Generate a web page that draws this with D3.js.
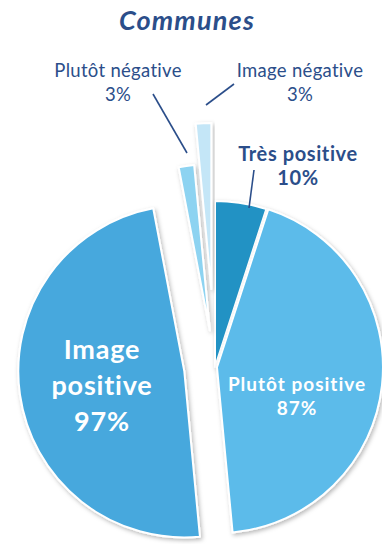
<!DOCTYPE html>
<html>
<head>
<meta charset="utf-8">
<script src="https://cdn.jsdelivr.net/npm/d3@7"></script>
<style>
  html, body { margin: 0; padding: 0; background: #ffffff; }
  svg { display: block; }
  text { font-family: Lato, "Open Sans", sans-serif; }
</style>
</head>
<body>
<svg id="chart" width="382" height="544"></svg>
<script>
// Slices in clockwise order, starting at 12 o'clock.
// Each half of the pie sums to 100, so the full circle is 200.
const categories = ["Très positive", "Plutôt positive", "Image positive", "Plutôt négative", "Image négative"];
const values     = [10, 87, 97, 3, 3];
const valueLabels = ["10%", "87%", "97%", "3%", "3%"];
const title = "Communes";

const colors = {
  "Très positive":   "#2192c4",
  "Plutôt positive": "#5bbbea",
  "Image positive":  "#47a8dd",
  "Plutôt négative": "#8dd3f1",
  "Image négative":  "#c4e6f7"
};
// how far each slice is pulled out from the centre, along its bisector
const explode = {
  "Très positive": 0,
  "Plutôt positive": 2,
  "Image positive": 31,
  "Plutôt négative": 37,
  "Image négative": 78
};

const svg = d3.select("#chart");
const cx = 215, cy = 367, r = 166;
const ink = "#2b4e8a";

// soft shadow under the slices
const defs = svg.append("defs");
const f = defs.append("filter").attr("id", "shadow")
  .attr("x", "-20%").attr("y", "-20%").attr("width", "140%").attr("height", "140%");
f.append("feDropShadow").attr("dx", 1.5).attr("dy", 2).attr("stdDeviation", 2)
  .attr("flood-color", "#000").attr("flood-opacity", 0.28);

const data = categories.map((c, i) => ({ name: c, value: values[i], label: valueLabels[i] }));

const pie = d3.pie().sort(null).value(d => d.value).startAngle(0).endAngle(2 * Math.PI);
const arcs = pie(data);
const arc = d3.arc().innerRadius(0).outerRadius(r);

function offset(a) {
  const mid = (a.startAngle + a.endAngle) / 2;
  const k = explode[a.data.name];
  return [Math.sin(mid) * k, -Math.cos(mid) * k];
}

const g = svg.append("g").attr("transform", `translate(${cx},${cy})`);

g.selectAll("path.slice")
  .data(arcs)
  .join("path")
  .attr("class", "slice")
  .attr("transform", d => { const o = offset(d); return `translate(${o[0]},${o[1]})`; })
  .attr("d", arc)
  .attr("fill", d => colors[d.data.name])
  .attr("stroke", "#ffffff")
  .attr("stroke-width", 2)
  .attr("stroke-linejoin", "round")
  .attr("filter", "url(#shadow)");

// title
svg.append("text")
  .attr("x", 187).attr("y", 30)
  .attr("text-anchor", "middle")
  .attr("font-size", 27).attr("font-weight", 700).attr("font-style", "italic")
  .attr("letter-spacing", 1.2)
  .attr("fill", ink)
  .text(title);

const byName = Object.fromEntries(arcs.map(a => [a.data.name, a]));

// labels inside the large slices
function inside(name, lines, x, y0, size, lh, ls) {
  const t = svg.append("text")
    .attr("text-anchor", "middle")
    .attr("font-size", size).attr("font-weight", 700)
    .attr("letter-spacing", ls)
    .attr("fill", "#ffffff");
  lines.forEach((s, i) => t.append("tspan").attr("x", x).attr("y", y0 + i * lh).text(s));
}
inside("Image positive", ["Image", "positive", byName["Image positive"].data.label], 102, 359, 27, 36, 0.8);
inside("Plutôt positive", ["Plutôt positive", byName["Plutôt positive"].data.label], 297, 391, 19, 24, 1.0);

// outside labels with leader lines
function outside(name, x, y0, weight, size, ls, line) {
  const t = svg.append("text")
    .attr("text-anchor", "middle")
    .attr("font-size", size).attr("font-weight", weight)
    .attr("letter-spacing", ls)
    .attr("fill", ink);
  t.append("tspan").attr("x", x).attr("y", y0).text(name);
  t.append("tspan").attr("x", x).attr("y", y0 + 24).text(byName[name].data.label);
  svg.append("line")
    .attr("x1", line[0]).attr("y1", line[1]).attr("x2", line[2]).attr("y2", line[3])
    .attr("stroke", ink).attr("stroke-width", 1.6);
}
outside("Plutôt négative", 118, 77, 400, 18.5, 0.3, [153, 94, 187, 153]);
outside("Image négative", 300, 77, 400, 18.5, 0.3, [234, 84, 206, 105]);
outside("Très positive", 298, 161, 700, 20, 0.6, [254, 170, 249, 208]);
</script>
</body>
</html>
